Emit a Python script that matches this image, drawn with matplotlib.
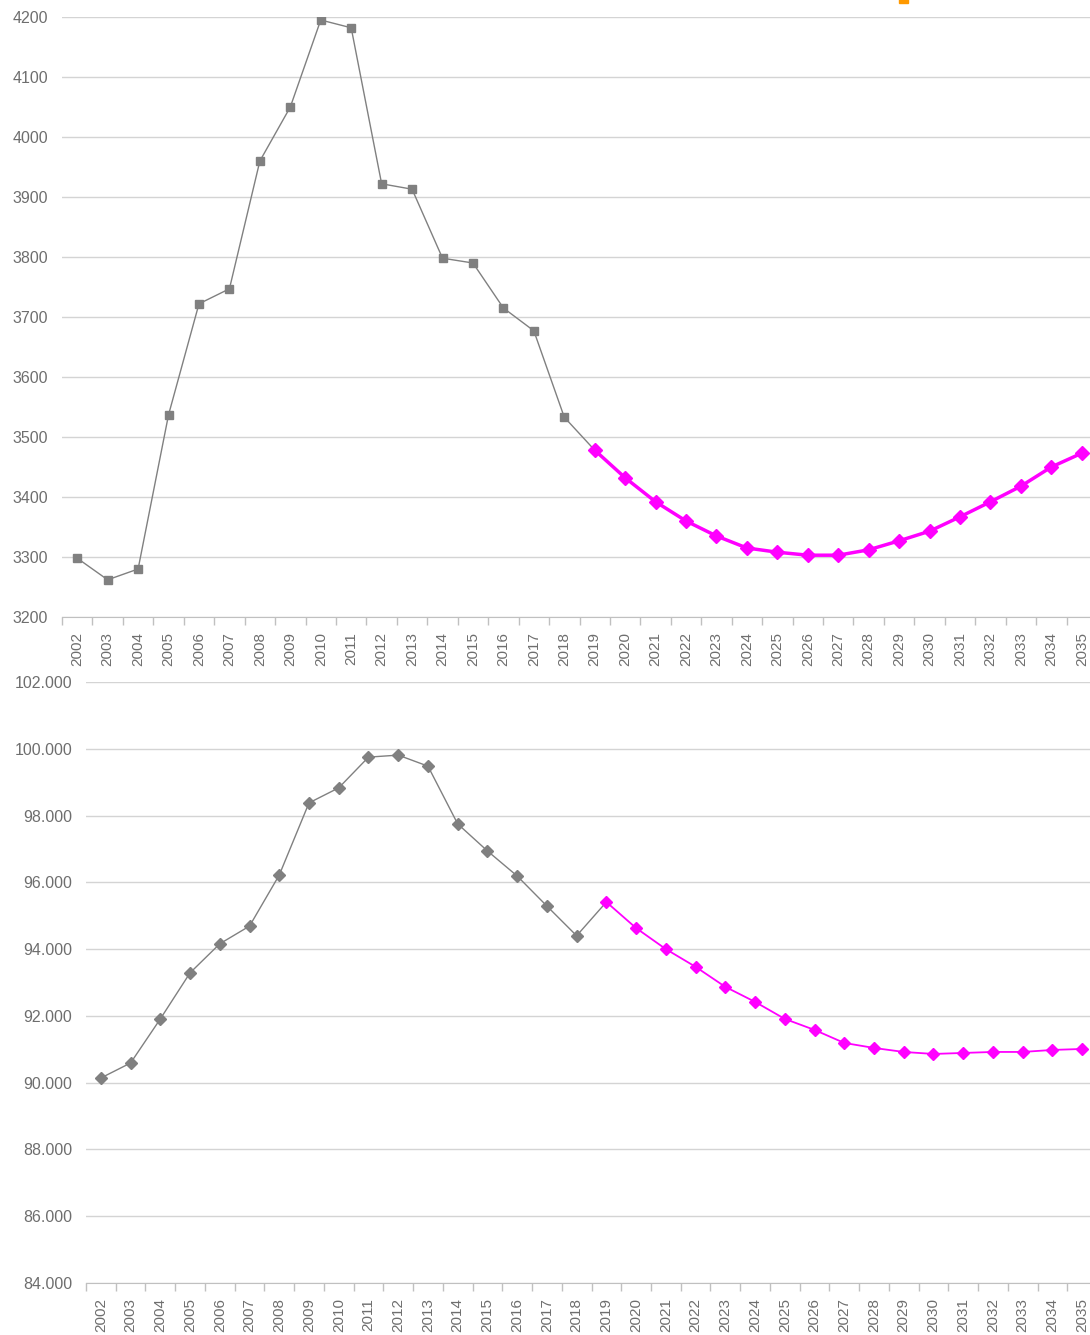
import matplotlib.pyplot as plt
from matplotlib.ticker import FuncFormatter, MultipleLocator
from matplotlib.patches import Rectangle
import numpy as np

plt.rcParams['font.family'] = ['Liberation Sans', 'DejaVu Sans']

years = [str(y) for y in range(2002, 2036)]

# upper chart
top_hist = [3298, 3262, 3280, 3537, 3722, 3747, 3960, 4050, 4195, 4182,
            3922, 3913, 3798, 3790, 3715, 3677, 3533]
top_proj = [3478, 3432, 3392, 3360, 3335, 3315, 3308, 3303, 3303, 3312,
            3327, 3343, 3367, 3392, 3418, 3450, 3473]

# lower chart (thousands)
bot_hist = [90.14, 90.59, 91.91, 93.29, 94.16, 94.69, 96.22, 98.38, 98.83, 99.75,
            99.81, 99.48, 97.75, 96.94, 96.19, 95.29, 94.40]
bot_proj = [95.41, 94.63, 94.00, 93.47, 92.87, 92.42, 91.91, 91.58, 91.19, 91.04,
            90.92, 90.86, 90.89, 90.92, 90.92, 90.98, 91.01]

GREY = '#808080'
PINK = '#ff00ff'
TXT = '#6e6e6e'
GRID = '#d4d4d4'

W, H = 1090, 1335
fig = plt.figure(figsize=(W / 100, H / 100), dpi=100)


def style(ax):
    n = len(years)
    ax.set_xlim(-0.5, n - 0.5)
    ax.set_xticks(range(n))
    ax.set_xticklabels(years, rotation=90, fontsize=11, color=TXT)
    ax.set_xticks(np.arange(-0.5, n, 1), minor=True)
    ax.tick_params(axis='x', which='major', length=0, pad=11)
    ax.tick_params(axis='x', which='minor', length=6, color='#c0c0c0', width=1)
    ax.tick_params(axis='y', length=0, pad=10, labelsize=11.5, labelcolor=TXT)
    for s in ['top', 'right', 'left']:
        ax.spines[s].set_visible(False)
    ax.spines['bottom'].set_color('#c0c0c0')
    ax.grid(axis='y', color=GRID, linewidth=1)
    ax.set_axisbelow(True)


# top axes
ax1 = fig.add_axes([62 / W, 1 - 617 / H, 1035 / W, 600 / H])
style(ax1)
x_hist = np.arange(len(top_hist))
x_proj = np.arange(len(top_hist), len(years))
ax1.plot(list(x_hist) + [x_proj[0]], top_hist + [top_proj[0]], color=GREY, lw=1,
         marker='s', ms=5.5, markevery=list(range(len(top_hist))), zorder=3)
ax1.plot(x_proj, top_proj, color=PINK, lw=2.5, marker='D', ms=7.5, zorder=4)
ax1.set_ylim(3200, 4200)
ax1.yaxis.set_major_locator(MultipleLocator(100))

# bottom axes
ax2 = fig.add_axes([86 / W, 1 - 1283 / H, 1011 / W, 601 / H])
style(ax2)
ax2.plot(list(x_hist) + [x_proj[0]], bot_hist + [bot_proj[0]], color=GREY, lw=1,
         marker='D', ms=6, markevery=list(range(len(bot_hist))), zorder=3)
ax2.plot(x_proj, bot_proj, color=PINK, lw=1.3, marker='D', ms=6.5, zorder=4)
ax2.set_ylim(84, 102)
ax2.yaxis.set_major_locator(MultipleLocator(2))
ax2.yaxis.set_major_formatter(FuncFormatter(lambda v, p: f'{v:.3f}'))

# partly visible orange legend marker at the top edge
fig.patches.append(Rectangle((899 / W, 1 - 3 / H), 9 / W, 6 / H,
                             transform=fig.transFigure, color='#ff9900'))

fig.savefig('out.png', dpi=100)
